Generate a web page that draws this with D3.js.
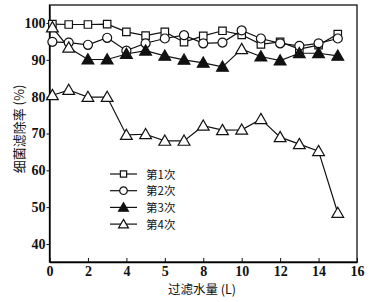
<!DOCTYPE html>
<head>
  <meta charset="utf-8">
  <script src="https://d3js.org/d3.v7.min.js"></script>
  <style>
    body { margin:0; background:#fff; }
    text { fill:#111; }
  </style>
</head>
<body>
<svg width="384" height="302"></svg>
<script>

const xs = [0.15, 1, 2, 3, 4, 5, 6, 7, 8, 9, 10, 11, 12, 13, 14, 15]
const run1 = [99.7, 99.6, 99.6, 99.7, 97.6, 96.6, 97.6, 94.8, 96.5, 97.9, 96.8, 94.2, 94.9, 92.9, 94.0, 97.0]
const run2 = [94.9, 94.7, 94.1, 96.0, 92.5, 94.5, 95.8, 96.7, 94.5, 94.7, 98.0, 95.8, 94.5, 93.8, 94.5, 95.8]
const run3 = [98.8, 93.3, 90.1, 90.1, 91.6, 92.5, 91.1, 90.0, 89.2, 88.1, 92.9, 90.9, 89.8, 91.8, 91.8, 91.1]
const run4 = [80.4, 81.8, 79.9, 79.9, 69.6, 69.8, 68.0, 68.0, 72.1, 70.9, 71.0, 73.9, 69.0, 67.1, 65.2, 48.4]
const names = ["第1次", "第2次", "第3次", "第4次"]
const xTicks = [0, 2, 4, 6, 8, 10, 12, 14, 16]
const xTickLabels = ["0", "2", "4", "5", "8", "10", "12", "14", "16"]
const yTicks = [40, 50, 60, 70, 80, 90, 100]

const svg = d3.select("svg")
const serif = "'Liberation Serif', 'DejaVu Serif', serif"
const cjk = "'Noto Sans CJK SC', sans-serif"

const x = d3.scaleLinear().domain([0, 16]).range([49.5, 357])
const y = d3.scaleLinear().domain([35.1, 104.9]).range([262, 5])

// frame
svg.append("rect")
  .attr("x", x(0)).attr("y", y(104.9))
  .attr("width", x(16) - x(0)).attr("height", y(35.1) - y(104.9))
  .attr("fill", "none").attr("stroke", "#111").attr("stroke-width", 1.3)

const xAxis = svg.append("g")
  .attr("transform", `translate(0,${y(35.1)})`)
  .call(d3.axisBottom(x).tickValues(xTicks)
    .tickFormat((d, i) => xTickLabels[i]).tickSizeInner(-4).tickSizeOuter(0).tickPadding(4))
xAxis.select(".domain").attr("stroke-width", 1.3)

const yAxis = svg.append("g")
  .attr("transform", `translate(${x(0)},0)`)
  .call(d3.axisLeft(y).tickValues(yTicks).tickSize(3).tickPadding(1).tickSizeOuter(0))
yAxis.select(".domain").attr("stroke-width", 1.3)

svg.selectAll(".tick text")
  .attr("font-family", serif).attr("font-size", 14).attr("font-weight", "bold").attr("fill", "#111")
svg.selectAll(".tick line").attr("stroke", "#111")

svg.append("text")
  .attr("transform", "translate(24,129) rotate(-90)")
  .attr("text-anchor", "middle")
  .attr("font-family", cjk).attr("font-size", 13)
  .text("细菌滤除率 (%)")

svg.append("text")
  .attr("x", 202).attr("y", 294)
  .attr("text-anchor", "middle")
  .attr("font-family", cjk).attr("font-size", 12.5)
  .text("过滤水量 (L)")

const series = [run1, run2, run3, run4]
const shapes = [d3.symbolSquare, d3.symbolCircle, d3.symbolTriangle, d3.symbolTriangle]
const sizes = [56, 64, 60, 60]
// open-looking triangles in the 3rd run of the print
const openIn3 = [0, 1, 10]
const fills = (s, i) => s === 2 && !openIn3.includes(i) ? "#111" : "#fff"

const line = d3.line().x((d, i) => x(xs[i])).y(d => y(d))

series.forEach((vals, s) => {
  svg.append("path")
    .datum(vals)
    .attr("d", line)
    .attr("fill", "none").attr("stroke", "#111").attr("stroke-width", 1.2)
})

series.forEach((vals, s) => {
  svg.append("g").selectAll("path")
    .data(vals)
    .enter().append("path")
      .attr("transform", (d, i) => `translate(${x(xs[i])},${y(d) + (s >= 2 ? 1 : 0)})`)
      .attr("d", d3.symbol().type(shapes[s]).size(sizes[s]))
      .attr("fill", (d, i) => fills(s, i))
      .attr("stroke", "#111").attr("stroke-width", 1.2)
})

// legend
const leg = svg.append("g")
names.forEach((n, s) => {
  const ly = 174 + s * 16.7
  leg.append("line")
    .attr("x1", 110).attr("x2", 137).attr("y1", ly).attr("y2", ly)
    .attr("stroke", "#111").attr("stroke-width", 1.2)
  leg.append("path")
    .attr("transform", `translate(123.5,${ly + (s >= 2 ? 1 : 0)})`)
    .attr("d", d3.symbol().type(shapes[s]).size(sizes[s] * 0.7))
    .attr("fill", s === 2 ? "#111" : "#fff")
    .attr("stroke", "#111").attr("stroke-width", 1.2)
  leg.append("text")
    .attr("x", 146).attr("y", ly + 4.5)
    .attr("font-family", cjk).attr("font-size", 11.5)
    .text(n)
})

</script>
</body>
